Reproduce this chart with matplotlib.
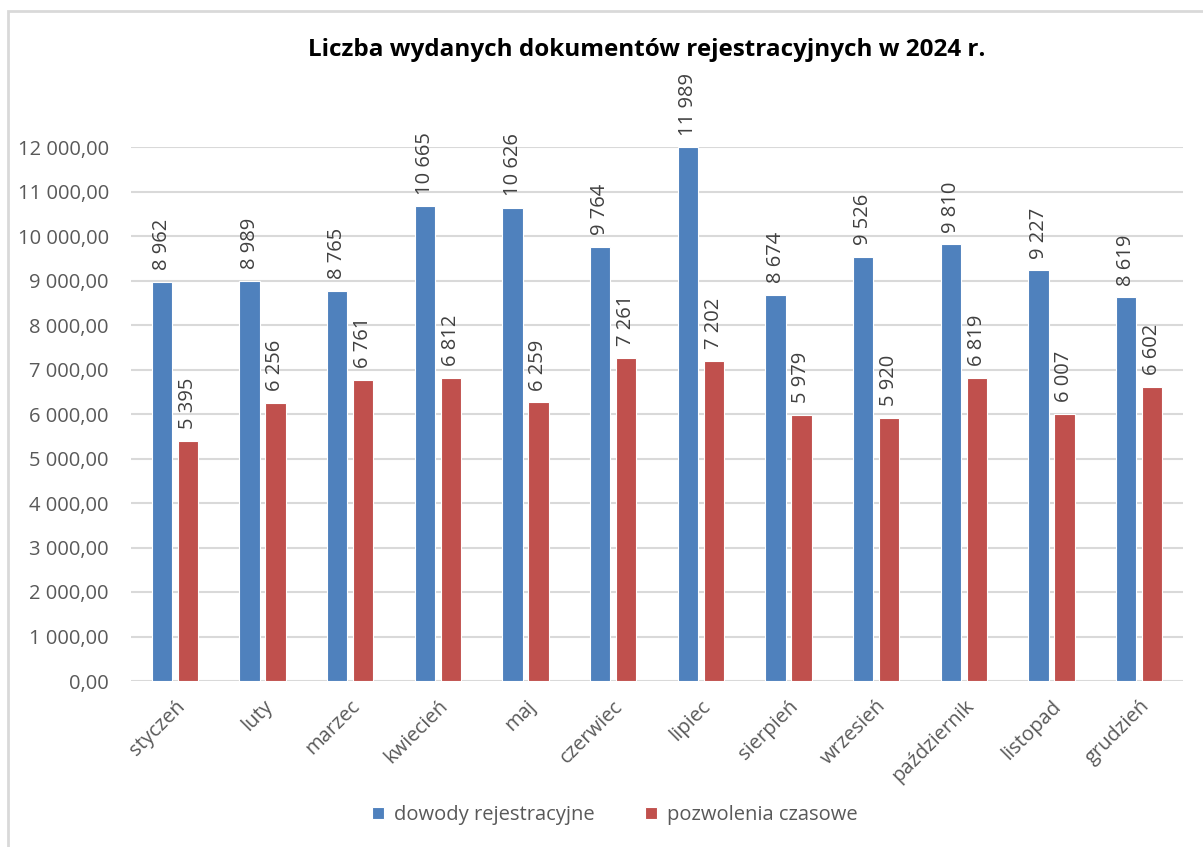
import numpy as np
import matplotlib.pyplot as plt
from matplotlib.patches import Rectangle
from matplotlib.ticker import FuncFormatter

plt.rcParams['font.family'] = ['Open Sans', 'DejaVu Sans']

################### Dane ###################
miesiace = ['styczeń', 'luty', 'marzec', 'kwiecień', 'maj', 'czerwiec',
            'lipiec', 'sierpień', 'wrzesień', 'październik', 'listopad', 'grudzień']
dowody = [8962, 8989, 8765, 10665, 10626, 9764, 11989, 8674, 9526, 9810, 9227, 8619]
pozwolenia = [5395, 6256, 6761, 6812, 6259, 7261, 7202, 5979, 5920, 6819, 6007, 6602]

BLUE = '#4F81BD'
RED = '#C0504D'
GRID = '#D9D9D9'
TXT = '#595959'


def pl_num(v, dec=0):
    # format polski: spacja jako separator tysięcy, przecinek dziesiętny
    return f"{v:,.{dec}f}".replace(',', ' ').replace('.', ',')


################### Figura ###################
fig = plt.figure(figsize=(12.03, 8.47), dpi=100)
ax = fig.add_axes([131 / 1203, 1 - 681 / 847, (1183 - 131) / 1203, (681 - 147) / 847])

# ramka wykresu (jak w Excelu)
fig.patches.append(Rectangle((8 / 1203, -0.1), 1.2, 1 - 11 / 847 + 0.1,
                             transform=fig.transFigure, fill=False,
                             edgecolor='#D9D9D9', linewidth=2))

x = np.arange(len(miesiace))
w = 0.23
gap = 0.065
b1 = ax.bar(x - (w + gap) / 2, dowody, w, color=BLUE, edgecolor='white',
            linewidth=0.8, label='dowody rejestracyjne', zorder=3)
b2 = ax.bar(x + (w + gap) / 2, pozwolenia, w, color=RED, edgecolor='white',
            linewidth=0.8, label='pozwolenia czasowe', zorder=3)

for bars in (b1, b2):
    for r in bars:
        h = r.get_height()
        ax.annotate(pl_num(h), (r.get_x() + r.get_width() / 2, h),
                    xytext=(0, 8.5), textcoords='offset points',
                    rotation=90, ha='center', va='bottom', fontsize=14.5,
                    color='#404040', clip_on=False)

ax.set_xlim(-0.5, len(miesiace) - 0.5)
ax.set_ylim(0, 12000)
ax.set_yticks(np.arange(0, 12001, 1000))
ax.yaxis.set_major_formatter(FuncFormatter(lambda v, p: pl_num(v, 2)))
ax.grid(axis='y', color=GRID, linewidth=1.5, zorder=0)
ax.set_axisbelow(True)
for s in ax.spines.values():
    s.set_visible(False)
ax.tick_params(axis='both', length=0, labelsize=14.5, colors=TXT)
ax.tick_params(axis='y', pad=16)
ax.set_xticks(x)
ax.set_xticklabels(miesiace, rotation=45, ha='right', rotation_mode='anchor')
ax.tick_params(axis='x', pad=11)

fig.text(0.5 * (307 + 987) / 1203, 1 - 50 / 847,
         'Liczba wydanych dokumentów rejestracyjnych w 2024 r.',
         ha='center', va='center', fontsize=17.5, fontweight='bold', color='black')

fig.legend(handles=[b1, b2], loc='center', bbox_to_anchor=(615 / 1203, 1 - 815 / 847),
           ncol=2, frameon=False, fontsize=14.5, labelcolor=TXT,
           handlelength=0.6, handleheight=0.6, columnspacing=2.5, handletextpad=0.5)

fig.savefig('out.png', dpi=100)
